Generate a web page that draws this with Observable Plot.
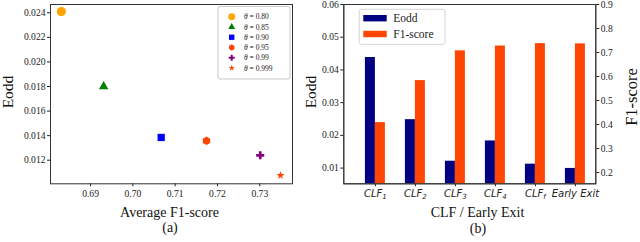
<!DOCTYPE html>
<html><head><meta charset="utf-8">
<script src="https://cdn.jsdelivr.net/npm/d3@7"></script>
<script src="https://cdn.jsdelivr.net/npm/@observablehq/plot@0.6"></script>
<style>
body{margin:0;background:#fff;}
#wrap{position:relative;width:640px;height:242px;overflow:hidden;font-family:"Liberation Serif",serif;color:#111;}
#wrap svg{position:absolute;top:0;}
.lab{position:absolute;white-space:nowrap;transform:translate(-50%,-50%);line-height:1;}
.rot{transform:translate(-50%,-50%) rotate(-90deg);}
</style></head><body><div id="wrap"></div>
<script>
// ---- data: panel (a)
const thetas = ["0.80","0.85","0.90","0.95","0.99","0.999"];
const avgF1 = [0.6831,0.6931,0.7067,0.7174,0.7301,0.7349];
const eoddA = [0.0241,0.0180,0.01385,0.01358,0.0124,0.01076];
const xTicksA = [0.69,0.70,0.71,0.72,0.73];
const yTicksA = [0.012,0.014,0.016,0.018,0.020,0.022,0.024];
// ---- data: panel (b)
const clfs = ["CLF_1","CLF_2","CLF_3","CLF_4","CLF_f","Early Exit"];
const eoddB = [0.0438,0.0248,0.0121,0.0183,0.0112,0.0099];
const f1B = [0.408,0.583,0.707,0.727,0.737,0.736];
const yTicksB = [0.01,0.02,0.03,0.04,0.05,0.06];
const y2TicksB = [0.2,0.3,0.4,0.5,0.6,0.7,0.8,0.9];

const wrap = document.getElementById("wrap");
const SERIF = '"Liberation Serif", serif';
const baseStyle = {fontFamily:SERIF, fontSize:"9.6px", background:"transparent", color:"#222", overflow:"visible"};
const tickFont = {fontFamily:SERIF, fontSize:9.6, fill:"#222"};

// ---- panel (a)
const symA = ["circle","triangle","square","hexagon","cross","star"];
const colA = ["#FFA500","#008000","#0000FF","#FF4500","#800080","#FF4500"];
const rA = [4.6,3.5,4.1,3.7,3.4,2.6];
const pointsA = thetas.map((t,i)=>({theta:t, f1:avgF1[i], eodd:eoddA[i]}));
const plotA = Plot.plot({
  width:320, height:242, marginLeft:50, marginRight:28, marginTop:4, marginBottom:58.7,
  style: baseStyle,
  x:{domain:[0.68054,0.73773]}, y:{domain:[0.010078,0.024676]},
  symbol:{domain:thetas, range:symA}, color:{domain:thetas, range:colA},
  r:{type:"linear", domain:[0,10], range:[0,10]},
  marks:[
    Plot.axisX({ticks:xTicksA, tickFormat:d3.format(".2f"), tickSize:3, tickPadding:3, label:null, ...tickFont}),
    Plot.axisY({ticks:yTicksA, tickFormat:d3.format(".3f"), tickSize:3, tickPadding:2, label:null, ...tickFont}),
    Plot.dot(pointsA,{x:"f1", y:"eodd", symbol:"theta", fill:"theta", r:d=>rA[thetas.indexOf(d.theta)], stroke:"none"}),
    Plot.frame({stroke:"#333"})
  ]
});
plotA.style.left = "0px";
wrap.appendChild(plotA);

// ---- panel (b)
const barsB = clfs.map((c,i)=>({i, c, eodd:eoddB[i], f1:f1B[i]}));
const xDomB = [-0.79, 5.51];
const yDomB = [0.0052, 0.06];
const y2DomB = [0.153, 0.9];
const bw = 0.25;
const dimsB = {width:320, height:242, marginLeft:23.3, marginRight:44.7, marginTop:4, marginBottom:58.7, style: baseStyle};
const plotB1 = Plot.plot({...dimsB,
  x:{domain:xDomB}, y:{domain:yDomB},
  marks:[
    Plot.rectY(barsB,{x1:d=>d.i-bw, x2:d=>d.i, y1:yDomB[0], y2:"eodd", fill:"#000080"}),
    Plot.axisX({ticks:d3.range(clfs.length), tickFormat:i=>clfs[i], fontStyle:"italic", fontSize:10, fill:"#222", tickSize:3, tickPadding:3, label:null}),
    Plot.axisY({ticks:yTicksB, tickFormat:d3.format(".2f"), tickSize:3, tickPadding:2, label:null, ...tickFont}),
    Plot.frame({stroke:"#333"})
  ]});
const plotB2 = Plot.plot({...dimsB,
  x:{domain:xDomB, axis:null}, y:{domain:y2DomB},
  marks:[
    Plot.rectY(barsB,{x1:d=>d.i, x2:d=>d.i+bw, y1:y2DomB[0], y2:"f1", fill:"#FF4500"}),
    Plot.axisY({anchor:"right", ticks:y2TicksB, tickFormat:d3.format(".1f"), tickSize:3, tickPadding:2, label:null, ...tickFont}),
    Plot.frame({stroke:"#333"})
  ]});
plotB1.style.left = "320px"; plotB2.style.left = "320px";
wrap.appendChild(plotB1); wrap.appendChild(plotB2);

// serif for numeric tick labels; italic sans with subscripts for category labels
[plotA, plotB1, plotB2].forEach(p => {
  d3.select(p).selectAll("text").each(function(){
    const t = this.textContent;
    const isCat = clfs.includes(t);
    this.style.fontFamily = isCat ? '"DejaVu Sans", sans-serif' : SERIF;
    if (isCat) { this.style.fontStyle = "italic"; this.style.fontSize = "10px"; }
    else this.style.fontSize = "9.6px";
    if (t.includes("_")) {
      const [base, sub] = t.split("_");
      this.textContent = "";
      d3.select(this).append("tspan").text(base);
      d3.select(this).append("tspan").attr("font-size","7px").attr("dy","0.25em").text(sub);
    }
  });
});

// ---- legends overlay
const ov = d3.select(wrap).append("svg").attr("width",640).attr("height",242).style("left","0px").style("pointer-events","none");
const sqrt4_3 = 2/Math.sqrt(3);
const symbolHexagon = {draw(ctx,size){const rx=Math.sqrt(size/Math.PI), ry=rx*sqrt4_3, hy=ry/2;
  ctx.moveTo(0,ry);ctx.lineTo(rx,hy);ctx.lineTo(rx,-hy);ctx.lineTo(0,-ry);ctx.lineTo(-rx,-hy);ctx.lineTo(-rx,hy);ctx.closePath();}};
const symMap = {circle:d3.symbolCircle, triangle:d3.symbolTriangle, square:d3.symbolSquare, hexagon:symbolHexagon, cross:d3.symbolCross, star:d3.symbolStar};
ov.append("rect").attr("x",218).attr("y",6.5).attr("width",72).attr("height",72.5).attr("rx",2)
  .attr("fill","#fff").attr("stroke","#bbb").attr("stroke-width",0.8);
thetas.forEach((t,i)=>{
  const y = 16.7 + i*10.27;
  const r = rA[i]*0.74;
  ov.append("path").attr("d", d3.symbol(symMap[symA[i]], Math.PI*r*r)()).attr("transform",`translate(231.7,${y})`).attr("fill",colA[i]);
  const tx = ov.append("text").attr("x",244).attr("y",y+2.6).style("font-size","7.5px").attr("fill","#222").style("font-family",SERIF);
  tx.append("tspan").attr("font-style","italic").text("θ");
  tx.append("tspan").text(" = " + t);
});
ov.append("rect").attr("x",359.3).attr("y",9.3).attr("width",85.7).attr("height",35).attr("rx",2)
  .attr("fill","#fff").attr("stroke","#ccc").attr("stroke-width",0.8);
[["Eodd","#000080",15],["F1-score","#FF4500",30.8]].forEach(([name,c,y])=>{
  ov.append("rect").attr("x",363.3).attr("y",y).attr("width",23.4).attr("height",6.4).attr("fill",c);
  ov.append("text").attr("x",393.3).attr("y",y+7.2).style("font-size","11.5px").attr("fill","#222").style("font-family",SERIF).text(name);
});

// ---- axis labels and captions
function lab(text,x,y,size,rot){
  const d=document.createElement("div"); d.className="lab"+(rot?" rot":""); d.textContent=text;
  d.style.left=x+"px"; d.style.top=y+"px"; d.style.fontSize=size+"px"; wrap.appendChild(d);
}
lab("Eodd",7.5,92,15.5,true);
lab("Average F1-score",169.5,212.5,14);
lab("(a)",170,228,14);
lab("Eodd",311,92,15.5,true);
lab("F1-score",632,97,16.5,true);
lab("CLF / Early Exit",477.5,213,14);
lab("(b)",478,228.5,14);
</script></body></html>
